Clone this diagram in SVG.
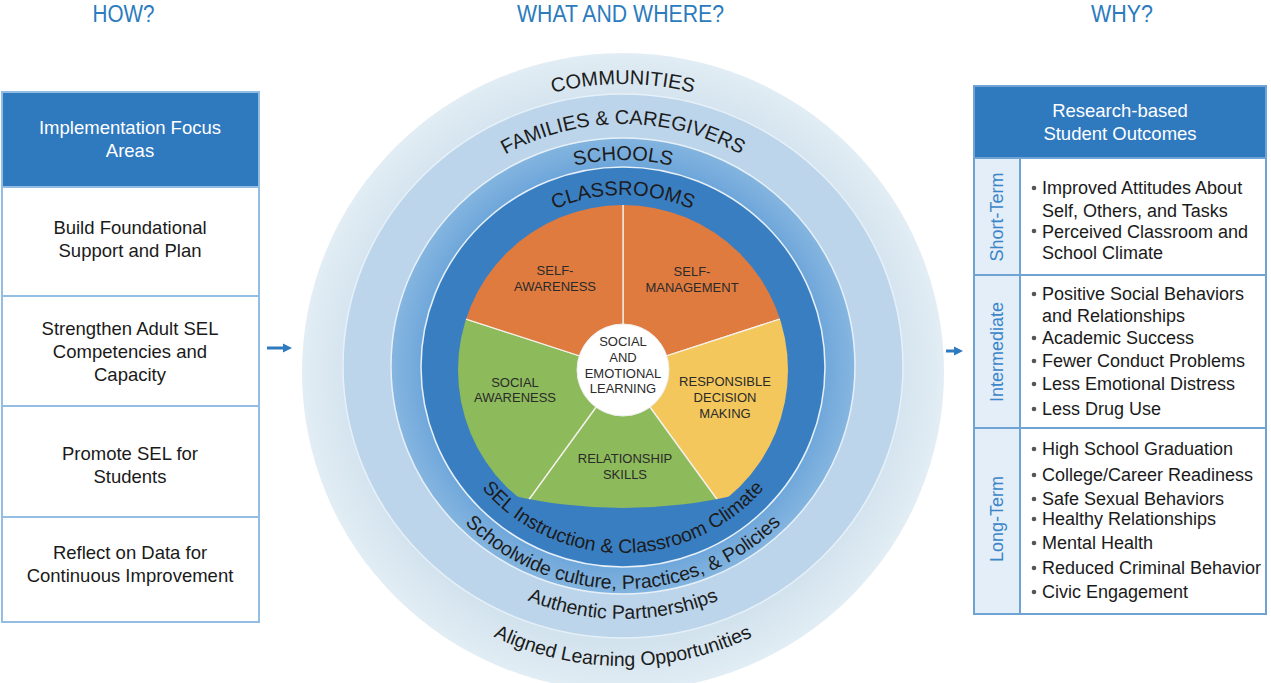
<svg xmlns="http://www.w3.org/2000/svg" width="1271" height="683" viewBox="0 0 1271 683">
<style>
text{font-family:"Liberation Sans",Arial,Helvetica,sans-serif}
.hd{font-size:23px;fill:#2b7bbd;text-anchor:middle}
.bx{font-size:18.5px;fill:#1a1a1a;text-anchor:middle}
.wh{fill:#ffffff}
.wl{font-size:13px;fill:#2a2a2a;text-anchor:middle}
.rt{font-size:20px;fill:#1c1c1c}
.rb{font-size:19.5px;fill:#1c1c1c}
.ot{font-size:18px;fill:#1a1a1a}
.sd{font-size:18px;fill:#3b86c8;text-anchor:middle}
.cell{fill:#ffffff;stroke:#93bde3;stroke-width:2}
.blue{fill:#2f79bf}
.dot{fill:#555555}
.sep{stroke:#e6f0f8;stroke-width:1.5}
.wedge{stroke:#f4f1ea;stroke-width:1.3}
.arr{stroke:#2f79bf;stroke-width:3;fill:none}
</style>
<defs>
<marker id="ah" viewBox="0 0 10 10" refX="0" refY="5" markerUnits="userSpaceOnUse" markerWidth="9" markerHeight="15" orient="auto">
<path d="M0,0 L10,5 L0,10 Z" fill="#2f79bf"/>
</marker>
<radialGradient id="gComm" cx="623" cy="372" r="321" gradientUnits="userSpaceOnUse">
<stop offset="0.85" stop-color="#d3e3ee"/>
<stop offset="1" stop-color="#e2edf4"/>
</radialGradient>
<radialGradient id="gSch" cx="623" cy="366" r="232" gradientUnits="userSpaceOnUse">
<stop offset="0.86" stop-color="#6ea6da"/>
<stop offset="1" stop-color="#86b6e0"/>
</radialGradient>
<clipPath id="pieCircle"><circle cx="623" cy="370" r="165"/></clipPath>
<clipPath id="pieBottom"><ellipse cx="623" cy="330" rx="300" ry="178"/></clipPath>
<path id="p-comm" d="M335,372 A288,288 0 0 1 911,372"/>
<path id="p-fam" d="M381,366 A242,242 0 0 1 865,366"/>
<path id="p-sch" d="M417,366 A206,206 0 0 1 829,366"/>
<path id="p-cls" d="M451,367 A172,172 0 0 1 795,367"/>
<path id="p-sel" d="M437,367 A186,186 0 0 0 809,367"/>
<path id="p-swc" d="M400,366 A223,223 0 0 0 846,366"/>
<path id="p-ap" d="M370,366 A253,253 0 0 0 876,366"/>
<path id="p-alo" d="M323,366 A300,300 0 0 0 923,366"/>
</defs>
<rect x="0" y="0" width="1271" height="683" fill="#ffffff"/>

<g id="headings">
<text class="hd" x="123.5" y="22" textLength="62" lengthAdjust="spacingAndGlyphs">HOW?</text>
<text class="hd" x="620.5" y="22" textLength="207" lengthAdjust="spacingAndGlyphs">WHAT AND WHERE?</text>
<text class="hd" x="1122" y="22" textLength="62" lengthAdjust="spacingAndGlyphs">WHY?</text>
</g>

<g id="how-panel">
<g id="how-header">
<rect class="cell" x="2" y="92" width="257" height="95"/>
<rect class="blue" x="3" y="93" width="255" height="94"/>
<text class="bx wh" x="130" y="134">Implementation Focus</text>
<text class="bx wh" x="130" y="157">Areas</text>
</g>
<g id="how-build">
<rect class="cell" x="2" y="187" width="257" height="109"/>
<text class="bx" x="130" y="234">Build Foundational</text>
<text class="bx" x="130" y="257">Support and Plan</text>
</g>
<g id="how-strengthen">
<rect class="cell" x="2" y="296" width="257" height="110"/>
<text class="bx" x="130" y="335">Strengthen Adult SEL</text>
<text class="bx" x="130" y="358">Competencies and</text>
<text class="bx" x="130" y="381">Capacity</text>
</g>
<g id="how-promote">
<rect class="cell" x="2" y="406" width="257" height="111"/>
<text class="bx" x="130" y="460">Promote SEL for</text>
<text class="bx" x="130" y="483">Students</text>
</g>
<g id="how-reflect">
<rect class="cell" x="2" y="517" width="257" height="105"/>
<text class="bx" x="130" y="559">Reflect on Data for</text>
<text class="bx" x="130" y="582">Continuous Improvement</text>
</g>
</g>

<g id="wheel">
<g id="ring-communities">
<ellipse cx="623" cy="372" rx="321" ry="319" fill="url(#gComm)"/>
<text class="rt"><textPath href="#p-comm" startOffset="50%" text-anchor="middle">COMMUNITIES</textPath></text>
</g>
<g id="ring-families">
<ellipse class="sep" cx="623" cy="366" rx="280" ry="272" fill="#bcd5ea"/>
<text class="rt" font-size="20.5"><textPath href="#p-fam" startOffset="50%" text-anchor="middle">FAMILIES &amp; CAREGIVERS</textPath></text>
</g>
<g id="ring-schools">
<ellipse class="sep" cx="623" cy="366" rx="232" ry="228" fill="url(#gSch)"/>
<text class="rt"><textPath href="#p-sch" startOffset="50%" text-anchor="middle">SCHOOLS</textPath></text>
</g>
<g id="ring-classrooms">
<ellipse class="sep" cx="623" cy="367" rx="202" ry="200" fill="#3a7ec2"/>
<text class="rt"><textPath href="#p-cls" startOffset="50%" text-anchor="middle">CLASSROOMS</textPath></text>
</g>
<g id="bottom-labels">
<text class="rb"><textPath href="#p-sel" startOffset="50%" text-anchor="middle">SEL Instruction &amp; Classroom Climate</textPath></text>
<text class="rb"><textPath href="#p-swc" startOffset="50%" text-anchor="middle">Schoolwide culture, Practices, &amp; Policies</textPath></text>
<text class="rb" font-size="20"><textPath href="#p-ap" startOffset="50%" text-anchor="middle">Authentic Partnerships</textPath></text>
<text class="rb" font-size="20.5"><textPath href="#p-alo" startOffset="50%" text-anchor="middle">Aligned Learning Opportunities</textPath></text>
</g>
<g id="pie" clip-path="url(#pieCircle)">
<g clip-path="url(#pieBottom)">
<g id="self-management">
<path class="wedge" d="M623,370 L623,200 A170,170 0 0 1 784.7,317.5 Z" fill="#e07b3f"/>
</g>
<g id="responsible-decision-making">
<path class="wedge" d="M623,370 L784.7,317.5 A170,170 0 0 1 722.9,507.5 Z" fill="#f3c75c"/>
</g>
<g id="relationship-skills">
<path class="wedge" d="M623,370 L722.9,507.5 A170,170 0 0 1 523.1,507.5 Z" fill="#8dba5b"/>
</g>
<g id="social-awareness">
<path class="wedge" d="M623,370 L523.1,507.5 A170,170 0 0 1 461.3,317.5 Z" fill="#8dba5b"/>
</g>
<g id="self-awareness">
<path class="wedge" d="M623,370 L461.3,317.5 A170,170 0 0 1 623,200 Z" fill="#e07b3f"/>
</g>
</g>
</g>
<g id="pie-labels">
<text class="wl" x="555" y="275">SELF-</text>
<text class="wl" x="555" y="291">AWARENESS</text>
<text class="wl" x="692" y="276">SELF-</text>
<text class="wl" x="692" y="292">MANAGEMENT</text>
<text class="wl" x="515" y="387">SOCIAL</text>
<text class="wl" x="515" y="402">AWARENESS</text>
<text class="wl" x="725" y="386">RESPONSIBLE</text>
<text class="wl" x="725" y="402">DECISION</text>
<text class="wl" x="725" y="418">MAKING</text>
<text class="wl" x="625" y="463">RELATIONSHIP</text>
<text class="wl" x="625" y="479">SKILLS</text>
</g>
<g id="sel-core">
<circle cx="623" cy="370" r="46" fill="#ffffff" stroke="#eeeeee" stroke-width="1"/>
<text class="wl" x="623" y="346">SOCIAL</text>
<text class="wl" x="623" y="362">AND</text>
<text class="wl" x="623" y="378">EMOTIONAL</text>
<text class="wl" x="623" y="393">LEARNING</text>
</g>
</g>

<g id="why-panel">
<g id="why-header">
<rect x="974" y="86" width="292" height="528" fill="#ffffff" stroke="#6fa3d4" stroke-width="2"/>
<rect class="blue" x="975" y="87" width="290" height="71"/>
<text class="bx wh" x="1120" y="117">Research-based</text>
<text class="bx wh" x="1120" y="140">Student Outcomes</text>
</g>
<rect x="975" y="158" width="45" height="455" fill="#e4eef8"/>
<g id="why-short">
<rect x="974" y="158" width="292" height="117" fill="none" stroke="#6fa3d4" stroke-width="2"/>
<line x1="1020" y1="158" x2="1020" y2="275" stroke="#6fa3d4" stroke-width="2"/>
<text class="sd" transform="translate(1003,217) rotate(-90)">Short-Term</text>
<circle class="dot" cx="1034" cy="188" r="2.3"/>
<text class="ot" x="1042" y="194">Improved Attitudes About</text>
<text class="ot" x="1042" y="217">Self, Others, and Tasks</text>
<circle class="dot" cx="1034" cy="231" r="2.3"/>
<text class="ot" x="1042" y="238">Perceived Classroom and</text>
<text class="ot" x="1042" y="259">School Climate</text>
</g>
<g id="why-intermediate">
<rect x="974" y="275" width="292" height="153" fill="none" stroke="#6fa3d4" stroke-width="2"/>
<line x1="1020" y1="275" x2="1020" y2="428" stroke="#6fa3d4" stroke-width="2"/>
<text class="sd" transform="translate(1003,352) rotate(-90)">Intermediate</text>
<circle class="dot" cx="1034" cy="294" r="2.3"/>
<text class="ot" x="1042" y="300">Positive Social Behaviors</text>
<text class="ot" x="1042" y="322">and Relationships</text>
<circle class="dot" cx="1034" cy="338" r="2.3"/>
<text class="ot" x="1042" y="344">Academic Success</text>
<circle class="dot" cx="1034" cy="361" r="2.3"/>
<text class="ot" x="1042" y="367">Fewer Conduct Problems</text>
<circle class="dot" cx="1034" cy="384" r="2.3"/>
<text class="ot" x="1042" y="390">Less Emotional Distress</text>
<circle class="dot" cx="1034" cy="409" r="2.3"/>
<text class="ot" x="1042" y="415">Less Drug Use</text>
</g>
<g id="why-long">
<rect x="974" y="428" width="292" height="186" fill="none" stroke="#6fa3d4" stroke-width="2"/>
<line x1="1020" y1="428" x2="1020" y2="614" stroke="#6fa3d4" stroke-width="2"/>
<text class="sd" transform="translate(1003,519) rotate(-90)">Long-Term</text>
<circle class="dot" cx="1034" cy="449" r="2.3"/>
<text class="ot" x="1042" y="455">High School Graduation</text>
<circle class="dot" cx="1034" cy="475" r="2.3"/>
<text class="ot" x="1042" y="481">College/Career Readiness</text>
<circle class="dot" cx="1034" cy="499" r="2.3"/>
<text class="ot" x="1042" y="505">Safe Sexual Behaviors</text>
<circle class="dot" cx="1034" cy="519" r="2.3"/>
<text class="ot" x="1042" y="525">Healthy Relationships</text>
<circle class="dot" cx="1034" cy="543" r="2.3"/>
<text class="ot" x="1042" y="549">Mental Health</text>
<circle class="dot" cx="1034" cy="568" r="2.3"/>
<text class="ot" x="1042" y="574">Reduced Criminal Behavior</text>
<circle class="dot" cx="1034" cy="592" r="2.3"/>
<text class="ot" x="1042" y="598">Civic Engagement</text>
</g>
</g>

<g id="connectors">
<line class="arr" x1="267" y1="348" x2="283" y2="348" marker-end="url(#ah)"/>
<line class="arr" x1="946" y1="351" x2="954" y2="351" marker-end="url(#ah)"/>
</g>
</svg>
